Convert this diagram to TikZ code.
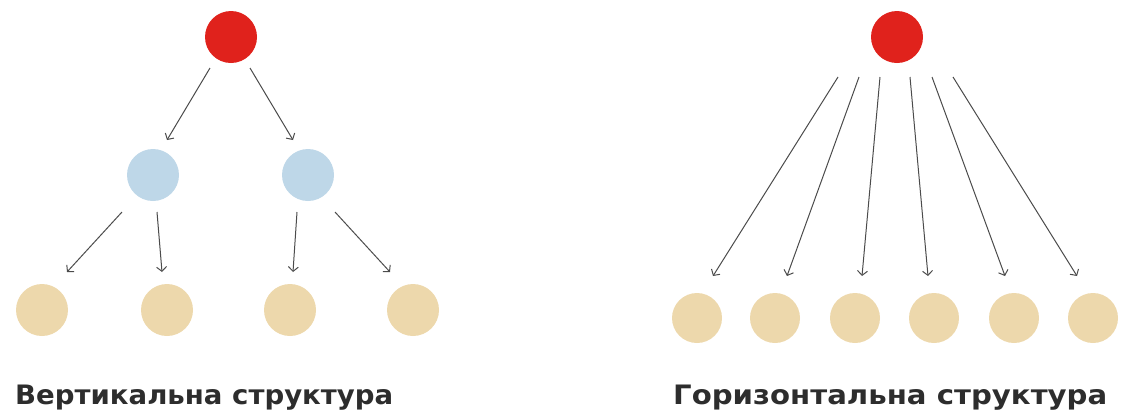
\documentclass[tikz,border=0pt]{standalone}
\usepackage{fontspec}
\setmainfont{DejaVu Sans}
\usetikzlibrary{arrows.meta,calc}
\definecolor{rootred}{RGB}{224,34,28}
\definecolor{midblue}{RGB}{190,215,232}
\definecolor{leafbeige}{RGB}{237,216,172}
\definecolor{arrgray}{RGB}{75,75,75}
\definecolor{txtgray}{RGB}{45,45,45}
\begin{document}
\begin{tikzpicture}[x=1pt,y=-1pt,
  dot/.style={circle,draw=none,inner sep=0pt,minimum size=#1},
  rootdot/.style={dot=52pt,fill=rootred},
  middot/.style={dot=52pt,fill=midblue},
  leafdot/.style={dot=52pt,fill=leafbeige},
  leafdotr/.style={dot=50pt,fill=leafbeige},
  arr/.style={draw=arrgray,line width=1pt,-{Straight Barb[length=4.5pt,width=10pt]}},
  caption/.style={anchor=base west,inner sep=0pt,text=txtgray,font=\bfseries}]
\useasboundingbox (0,0) rectangle (1121,416);
% vertical structure
\node[rootdot] (r) at (231,37) {};
\node[middot] (b1) at (153,175) {};
\node[middot] (b2) at (308,175) {};
\node[leafdot] (c1) at (42,310) {};
\node[leafdot] (c2) at (167,310) {};
\node[leafdot] (c3) at (290,310) {};
\node[leafdot] (c4) at (413,310) {};
\draw[arr] ($(r)+(-21,31)$) -- ($(b1)+(14,-35)$);
\draw[arr] ($(r)+(19,31)$) -- ($(b2)+(-15,-35)$);
\draw[arr] ($(b1)+(-31,37)$) -- ($(c1)+(25,-38)$);
\draw[arr] ($(b1)+(4,37)$) -- ($(c2)+(-5,-38)$);
\draw[arr] ($(b2)+(-11,37)$) -- ($(c3)+(3,-38)$);
\draw[arr] ($(b2)+(27,37)$) -- ($(c4)+(-23,-38)$);
\node[caption] (t1) at (15,404) {\resizebox{378pt}{19.5pt}{Вертикальна структура}};
% horizontal structure
\node[rootdot] (R) at (897,37) {};
\node[leafdotr] (d1) at (697,318) {};
\node[leafdotr] (d2) at (775,318) {};
\node[leafdotr] (d3) at (855,318) {};
\node[leafdotr] (d4) at (934,318) {};
\node[leafdotr] (d5) at (1014,318) {};
\node[leafdotr] (d6) at (1093,318) {};
\draw[arr] ($(R)+(-59,40)$) -- ($(d1)+(16,-42)$);
\draw[arr] ($(R)+(-38,40)$) -- ($(d2)+(12,-42)$);
\draw[arr] ($(R)+(-17,40)$) -- ($(d3)+(7,-42)$);
\draw[arr] ($(R)+(13,40)$) -- ($(d4)+(-6,-42)$);
\draw[arr] ($(R)+(35,40)$) -- ($(d5)+(-9,-42)$);
\draw[arr] ($(R)+(56,40)$) -- ($(d6)+(-16,-42)$);
\node[caption] (t2) at (673,404) {\resizebox{434pt}{19.5pt}{Горизонтальна структура}};
\end{tikzpicture}
\end{document}
